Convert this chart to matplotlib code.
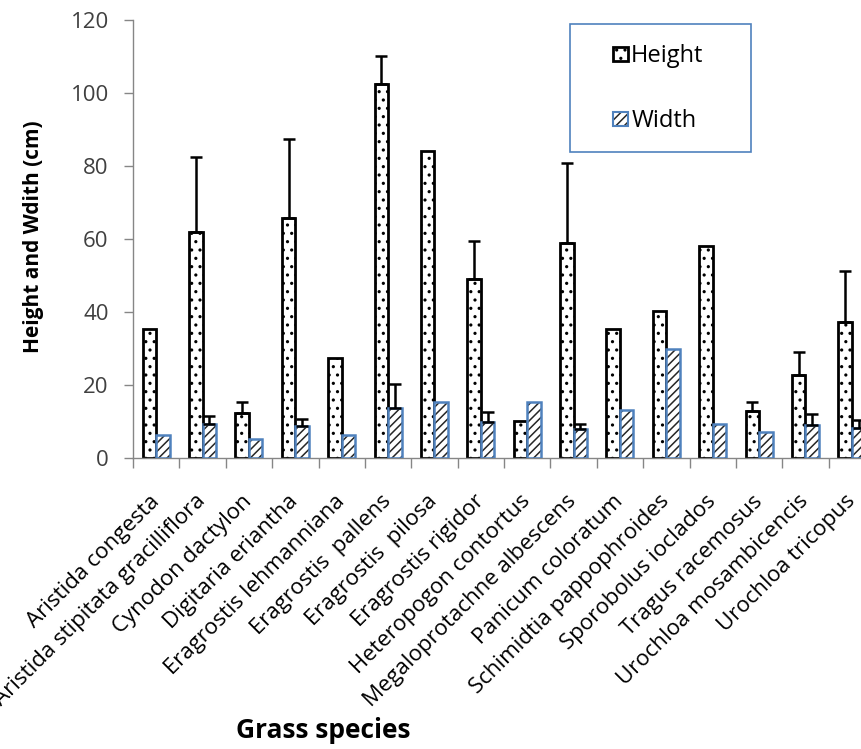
import matplotlib
matplotlib.use('Agg')
import matplotlib.pyplot as plt
import numpy as np
from matplotlib.patches import Rectangle, Patch

# ---- data ----
species = ['Aristida congesta', 'Aristida stipitata gracilliflora', 'Cynodon dactylon',
           'Digitaria eriantha', 'Eragrostis lehmanniana', 'Eragrostis  pallens',
           'Eragrostis  pilosa', 'Eragrostis rigidor', 'Heteropogon contortus',
           'Megaloprotachne albescens', 'Panicum coloratum', 'Schimidtia pappophroides',
           'Sporobolus ioclados', 'Tragus racemosus', 'Urochloa mosambicencis',
           'Urochloa tricopus']
height = [35.3, 62.0, 12.3, 65.8, 27.3, 102.5, 84.0, 49.0, 10.1, 58.9, 35.4, 40.3,
          58.1, 12.9, 22.7, 37.2]
height_err = [0, 20.4, 3.0, 21.6, 0, 7.6, 0, 10.5, 0, 22.0, 0, 0, 0, 2.4, 6.3, 14.1]
width = [6.3, 9.3, 5.3, 8.8, 6.3, 13.7, 15.4, 9.8, 15.4, 8.0, 13.2, 30.0, 9.4, 7.2, 9.0, 8.3]
width_err = [0, 2.2, 0, 1.8, 0, 6.6, 0, 2.7, 0, 1.4, 0, 0, 0, 0, 3.0, 2.1]

plt.rcParams['font.family'] = ['Open Sans', 'DejaVu Sans']
plt.rcParams['hatch.linewidth'] = 1.1

fig = plt.figure(figsize=(8.61, 7.49), dpi=100)
# plot area runs past the right edge, like the cropped original
ax = fig.add_axes([133 / 861, 291 / 749, 742 / 861, 438 / 749])

x = np.arange(len(species))
bw = 0.29
blue = '#4F81BD'
grey = '#868686'
hatch_col = '#262626'

# Height bars: white with dots, black outline
ax.bar(x - bw / 2, height, bw, color='white', edgecolor='black', hatch='..',
       linewidth=2.0, zorder=2)
# Width bars: dark diagonal hatch, blue outline
ax.bar(x + bw / 2, width, bw, color='white', edgecolor=hatch_col, hatch='////',
       linewidth=0, zorder=2)
ax.bar(x + bw / 2, width, bw, fill=False, edgecolor=blue, linewidth=1.8, zorder=3)

# plus-only error bars
h = np.array(height)
he = np.array(height_err)
m = he > 0
ax.errorbar(x[m] - bw / 2, h[m], yerr=[np.zeros(m.sum()), he[m]], fmt='none',
            ecolor='black', elinewidth=1.8, capsize=4, capthick=1.8, zorder=4)
w = np.array(width)
we = np.array(width_err)
m = we > 0
ax.errorbar(x[m] + bw / 2, w[m], yerr=[np.zeros(m.sum()), we[m]], fmt='none',
            ecolor='black', elinewidth=1.8, capsize=4, capthick=1.8, zorder=4)

ax.set_xlim(-0.5, len(species) - 0.5)
ax.set_ylim(0, 120)
ax.set_yticks(range(0, 121, 20))

ax.set_xticks(x)
ax.set_xticklabels(species, rotation=45, ha='right', va='center',
                   rotation_mode='anchor', fontsize=16, color='black')
ax.tick_params(axis='x', which='major', length=0, pad=29)
ax.set_xticks(np.arange(-0.5, len(species), 1), minor=True)
ax.tick_params(axis='x', which='minor', length=7, width=1, color=grey)
ax.tick_params(axis='y', length=6.5, width=1, color=grey, pad=11, labelsize=16,
               labelcolor='#404040')

for s in ['top', 'right']:
    ax.spines[s].set_visible(False)
for s in ['left', 'bottom']:
    ax.spines[s].set_color(grey)
    ax.spines[s].set_linewidth(1)

fig.text(34 / 861, 1 - 237 / 749, 'Height and Wdith (cm)', rotation=90,
         ha='center', va='center', fontsize=15, fontweight='bold')
fig.text(323 / 861, 1 - 731 / 749, 'Grass species', ha='center', va='center',
         fontsize=19, fontweight='bold')

# legend: width key = dark hatch patch with a blue outline patch on top
height_handle = Patch(facecolor='white', edgecolor='black', hatch='..', linewidth=2.0)
width_handle = (Patch(facecolor='white', edgecolor=hatch_col, hatch='////', linewidth=0),
                Patch(fill=False, edgecolor=blue, linewidth=1.5))
fig.legend([height_handle, width_handle], ['Height', 'Width'], loc='upper left',
           bbox_to_anchor=(613 / 861, 1 - 44 / 749), frameon=False, fontsize=17,
           handlelength=0.62, handleheight=0.55, handletextpad=0.15,
           labelspacing=1.75, borderpad=0, borderaxespad=0)
fig.add_artist(Rectangle((570 / 861, 1 - 152 / 749), 181 / 861, 128 / 749,
                         transform=fig.transFigure, fill=False, edgecolor=blue,
                         linewidth=1.2))

fig.savefig('out.png', dpi=100)
